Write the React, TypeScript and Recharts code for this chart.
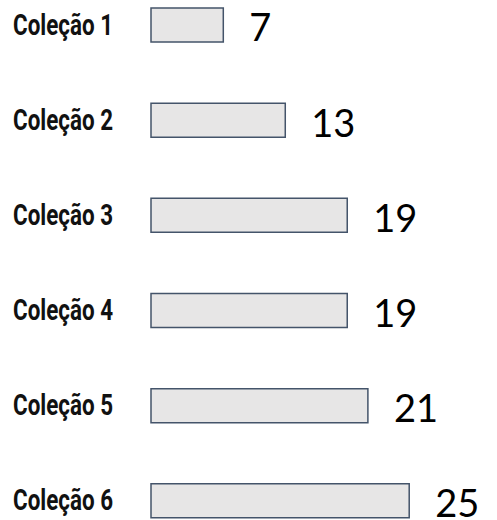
import { BarChart, Bar, XAxis, YAxis, LabelList } from 'recharts'

const categories = ['Coleção 1', 'Coleção 2', 'Coleção 3', 'Coleção 4', 'Coleção 5', 'Coleção 6']
const values = [7, 13, 19, 19, 21, 25]

const data = categories.map((name, i) => ({ name, value: values[i] }))

// narrow, tall category labels (condensed look)
const CategoryTick = (props: any) => {
  const { y, payload } = props
  return (
    <text
      x={13}
      y={y}
      dy={10}
      textAnchor="start"
      fill="#111"
      fontSize={30}
      fontWeight={700}
      fontFamily="Roboto, sans-serif"
      textLength={100}
      lengthAdjust="spacingAndGlyphs"
    >
      {payload.value}
    </text>
  )
}

export default function App() {
  return (
    <div style={{ position: 'absolute', left: 0, top: 0, width: 497, height: 520, overflow: 'hidden', background: '#fff' }}>
      <div style={{ position: 'absolute', left: 0, top: -23 }}>
        <BarChart
          width={497}
          height={571}
          data={data}
          layout="vertical"
          margin={{ top: 0, right: 0, bottom: 0, left: 0 }}
          barSize={34}
        >
          <XAxis type="number" domain={[0, 33.5]} hide />
          <YAxis
            type="category"
            dataKey="name"
            width={151}
            axisLine={false}
            tickLine={false}
            tick={<CategoryTick />}
          />
          <Bar dataKey="value" fill="#e7e6e6" stroke="#44546a" strokeWidth={1.5} isAnimationActive={false}>
            <LabelList
              dataKey="value"
              position="right"
              offset={26}
              dy={3}
              fill="#000"
              fontSize={38}
              fontFamily="Lato, sans-serif"
            />
          </Bar>
        </BarChart>
      </div>
    </div>
  )
}
